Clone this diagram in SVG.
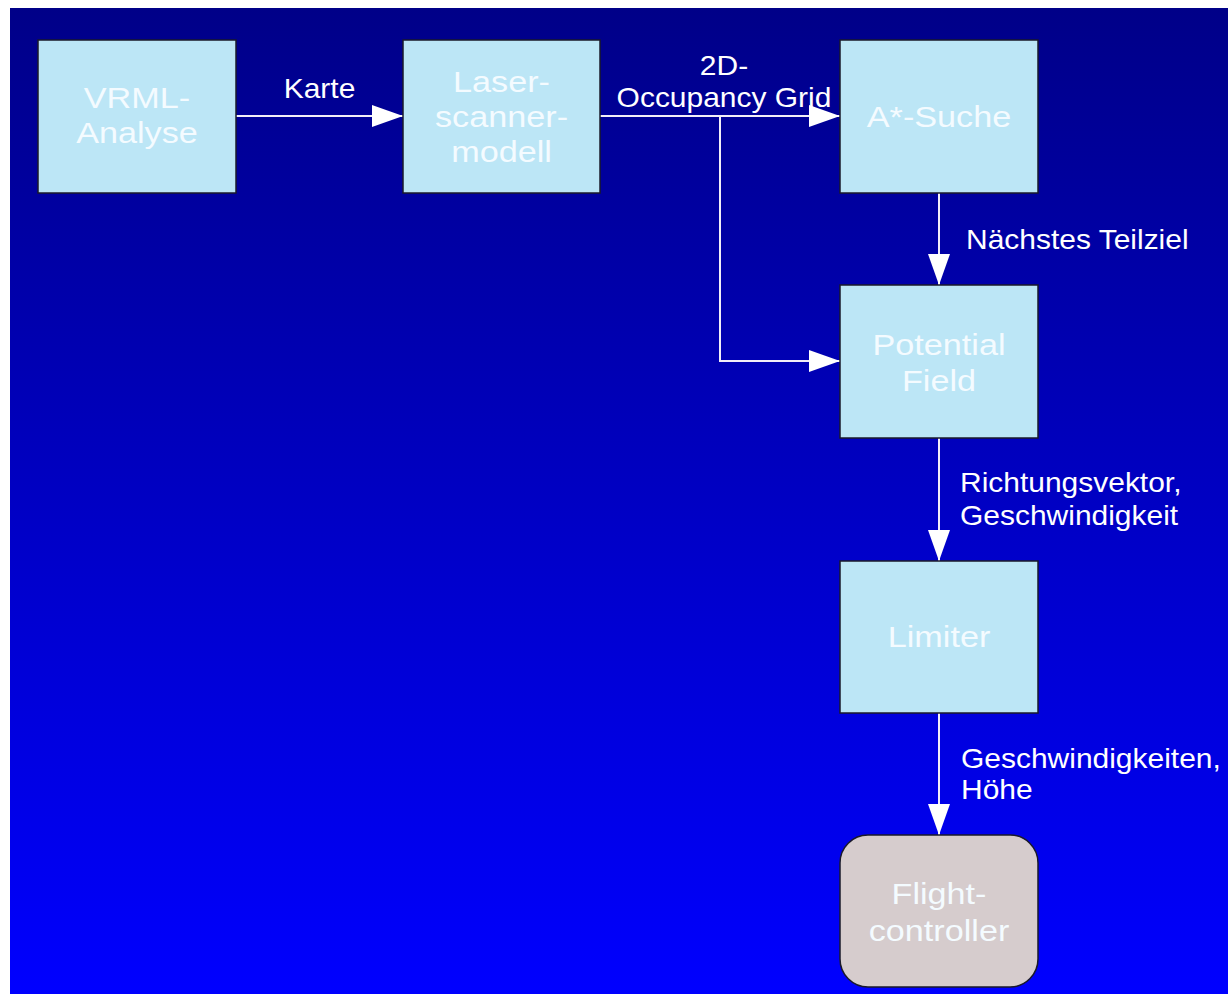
<svg xmlns="http://www.w3.org/2000/svg" width="1228" height="994" viewBox="0 0 1228 994">
<defs>
<linearGradient id="bg" x1="0" y1="0" x2="0" y2="1">
<stop offset="0" stop-color="#000088"/>
<stop offset="1" stop-color="#0000ff"/>
</linearGradient>
<marker id="ah" markerUnits="userSpaceOnUse" markerWidth="32" markerHeight="22" refX="31" refY="11" orient="auto">
<path d="M0,0 L31,11 L0,22 Z" fill="#ffffff"/>
</marker>
</defs>
<style>
.box{fill:#bce6f6;stroke:#1a1a2a;stroke-width:1.5}
.fc{fill:#d6cccd;stroke:#1a1a2a;stroke-width:1.5}
.nt{font-family:"Liberation Sans",Arial,sans-serif;font-size:30px;fill:#f4fbff;text-anchor:middle}
.lb{font-family:"Liberation Sans",Arial,sans-serif;font-size:27px;fill:#ffffff}
.lbm{font-family:"Liberation Sans",Arial,sans-serif;font-size:27px;fill:#ffffff;text-anchor:middle}
.cn{stroke:#f2eef8;stroke-width:2;fill:none}
</style>
<rect x="0" y="0" width="1228" height="994" fill="#ffffff"/>
<rect x="10" y="8" width="1218" height="986" fill="url(#bg)"/>

<g id="connectors">
<line class="cn" x1="236" y1="116" x2="403" y2="116" marker-end="url(#ah)"/>
<line class="cn" x1="600" y1="116" x2="840" y2="116" marker-end="url(#ah)"/>
<polyline class="cn" points="720,116 720,361 840,361" marker-end="url(#ah)"/>
<line class="cn" x1="939" y1="193" x2="939" y2="285" marker-end="url(#ah)"/>
<line class="cn" x1="939" y1="438" x2="939" y2="561" marker-end="url(#ah)"/>
<line class="cn" x1="939" y1="713" x2="939" y2="835" marker-end="url(#ah)"/>
<text class="lbm" transform="translate(319.5 0) scale(1.11 1)" x="0" y="98">Karte</text>
<text class="lbm" transform="translate(724 0) scale(1.11 1)"><tspan x="0" y="75">2D-</tspan><tspan x="0" y="107">Occupancy Grid</tspan></text>
<text class="lb" transform="translate(966 0) scale(1.11 1)" x="0" y="249">Nächstes Teilziel</text>
<text class="lb" transform="translate(960 0) scale(1.11 1)"><tspan x="0" y="492">Richtungsvektor,</tspan><tspan x="0" y="525">Geschwindigkeit</tspan></text>
<text class="lb" transform="translate(961 0) scale(1.11 1)"><tspan x="0" y="768">Geschwindigkeiten,</tspan><tspan x="0" y="799">Höhe</tspan></text>
</g>

<g id="vrml">
<rect class="box" x="38" y="40" width="198" height="153"/>
<text class="nt" transform="translate(137 0) scale(1.14 1)"><tspan x="0" y="108">VRML-</tspan><tspan x="0" y="143">Analyse</tspan></text>
</g>
<g id="laser">
<rect class="box" x="403" y="40" width="197" height="153"/>
<text class="nt" transform="translate(501.5 0) scale(1.14 1)"><tspan x="0" y="92">Laser-</tspan><tspan x="0" y="127">scanner-</tspan><tspan x="0" y="162">modell</tspan></text>
</g>
<g id="astar">
<rect class="box" x="840" y="40" width="198" height="153"/>
<text class="nt" transform="translate(939 0) scale(1.14 1)" x="0" y="127">A*-Suche</text>
</g>
<g id="potential">
<rect class="box" x="840" y="285" width="198" height="153"/>
<text class="nt" transform="translate(939 0) scale(1.14 1)"><tspan x="0" y="355">Potential</tspan><tspan x="0" y="391">Field</tspan></text>
</g>
<g id="limiter">
<rect class="box" x="840" y="561" width="198" height="152"/>
<text class="nt" transform="translate(939 0) scale(1.14 1)" x="0" y="647">Limiter</text>
</g>
<g id="flight">
<rect class="fc" x="840" y="835" width="198" height="152" rx="28" ry="28"/>
<text class="nt" transform="translate(939 0) scale(1.14 1)"><tspan x="0" y="904">Flight-</tspan><tspan x="0" y="941">controller</tspan></text>
</g>
</svg>
